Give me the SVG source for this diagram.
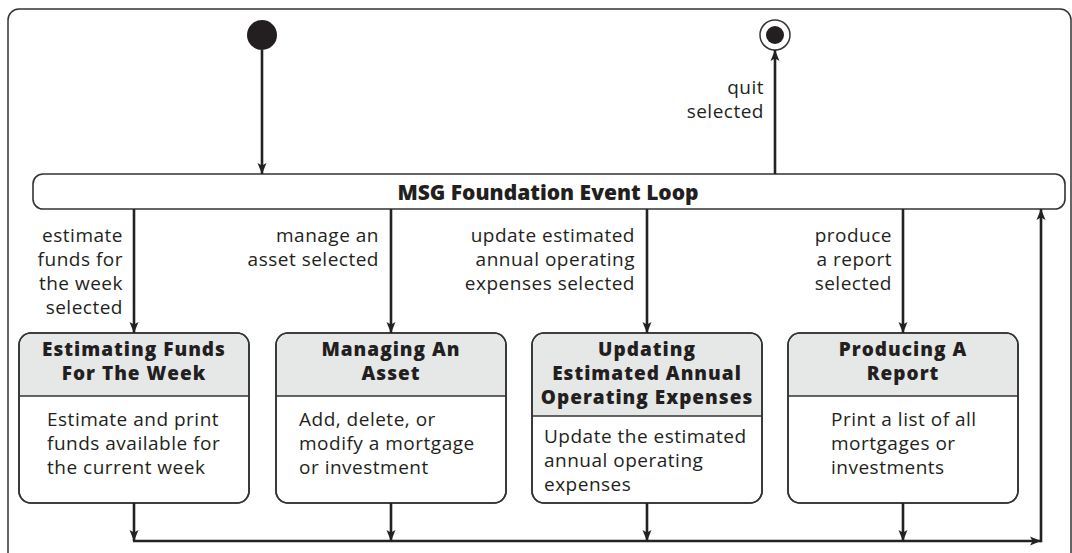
<svg xmlns="http://www.w3.org/2000/svg" width="1072" height="553" viewBox="0 0 1072 553">
<style>
.frame{fill:none;stroke:#333;stroke-width:1.5}
.box{fill:#fff;stroke:#333;stroke-width:1.6}
.hdr{fill:#e6e7e7;stroke:none}
.sep{stroke:#333;stroke-width:1.6}
.c{fill:none;stroke:#222;stroke-width:2.6}
.t{font-family:"Open Sans","Liberation Sans",sans-serif;font-size:19px;letter-spacing:0.5px;fill:#231f20}
.b{font-family:"Open Sans","Liberation Sans",sans-serif;font-size:19px;letter-spacing:1px;font-weight:800;fill:#231f20}
.ti{font-family:"Open Sans","Liberation Sans",sans-serif;font-size:21px;font-weight:800;fill:#231f20}
.e{text-anchor:end}
.m{text-anchor:middle}
</style>
<defs>
<marker id="ah" markerUnits="userSpaceOnUse" markerWidth="12" markerHeight="12" viewBox="0 0 12 12" refX="11" refY="6" orient="auto">
<path d="M0,1.5 L11,6 L0,10.5 L2.5,6 Z" fill="#222"/>
</marker>
</defs>
<rect class="frame" x="8" y="9" width="1063" height="570" rx="11"/>

<g id="initial"><circle cx="262" cy="35" r="15" fill="#231f20"/></g>
<g id="final"><circle cx="775" cy="35" r="15" fill="#fff" stroke="#333" stroke-width="1.5"/><circle cx="775" cy="35" r="9" fill="#231f20"/></g>

<g id="eventloop">
<rect class="box" x="33" y="174" width="1032" height="35" rx="10"/>
<text class="ti m" x="548" y="200">MSG Foundation Event Loop</text>
</g>

<g id="estimating">
<rect class="box" x="19" y="333" width="230" height="170" rx="12"/>
<path class="hdr" d="M20,396 V345 a11,11 0 0 1 11,-11 H237 a11,11 0 0 1 11,11 V396 Z"/>
<line class="sep" x1="19" y1="396" x2="249" y2="396"/>
<rect x="19" y="333" width="230" height="170" rx="12" fill="none" stroke="#333" stroke-width="1.6"/>
<text class="b m" x="134" y="356">Estimating Funds</text>
<text class="b m" x="134" y="380">For The Week</text>
<text class="t" x="47" y="426">Estimate and print</text>
<text class="t" x="47" y="450">funds available for</text>
<text class="t" x="47" y="474">the current week</text>
</g>

<g id="managing">
<rect class="box" x="276" y="333" width="230" height="170" rx="12"/>
<path class="hdr" d="M277,396 V345 a11,11 0 0 1 11,-11 H494 a11,11 0 0 1 11,11 V396 Z"/>
<line class="sep" x1="276" y1="396" x2="506" y2="396"/>
<rect x="276" y="333" width="230" height="170" rx="12" fill="none" stroke="#333" stroke-width="1.6"/>
<text class="b m" x="391" y="356">Managing An</text>
<text class="b m" x="391" y="380">Asset</text>
<text class="t" x="299" y="426">Add, delete, or</text>
<text class="t" x="299" y="450">modify a mortgage</text>
<text class="t" x="299" y="474">or investment</text>
</g>

<g id="updating">
<rect class="box" x="532" y="333" width="230" height="170" rx="12"/>
<path class="hdr" d="M533,416 V345 a11,11 0 0 1 11,-11 H750 a11,11 0 0 1 11,11 V416 Z"/>
<line class="sep" x1="532" y1="416" x2="762" y2="416"/>
<rect x="532" y="333" width="230" height="170" rx="12" fill="none" stroke="#333" stroke-width="1.6"/>
<text class="b m" x="647" y="356">Updating</text>
<text class="b m" x="647" y="380">Estimated Annual</text>
<text class="b m" x="647" y="404">Operating Expenses</text>
<text class="t" x="544" y="443">Update the estimated</text>
<text class="t" x="544" y="467">annual operating</text>
<text class="t" x="544" y="491">expenses</text>
</g>

<g id="producing">
<rect class="box" x="788" y="333" width="230" height="170" rx="12"/>
<path class="hdr" d="M789,396 V345 a11,11 0 0 1 11,-11 H1006 a11,11 0 0 1 11,11 V396 Z"/>
<line class="sep" x1="788" y1="396" x2="1018" y2="396"/>
<rect x="788" y="333" width="230" height="170" rx="12" fill="none" stroke="#333" stroke-width="1.6"/>
<text class="b m" x="903" y="356">Producing A</text>
<text class="b m" x="903" y="380">Report</text>
<text class="t" x="831" y="426">Print a list of all</text>
<text class="t" x="831" y="450">mortgages or</text>
<text class="t" x="831" y="474">investments</text>
</g>

<g id="connectors">
<line class="c" x1="262" y1="50" x2="262" y2="174" marker-end="url(#ah)"/>
<line class="c" x1="775" y1="174" x2="775" y2="50" marker-end="url(#ah)"/>
<line class="c" x1="134" y1="209" x2="134" y2="333" marker-end="url(#ah)"/>
<line class="c" x1="391" y1="209" x2="391" y2="333" marker-end="url(#ah)"/>
<line class="c" x1="647" y1="209" x2="647" y2="333" marker-end="url(#ah)"/>
<line class="c" x1="903" y1="209" x2="903" y2="333" marker-end="url(#ah)"/>
<line class="c" x1="134" y1="503" x2="134" y2="541" marker-end="url(#ah)"/>
<line class="c" x1="391" y1="503" x2="391" y2="541" marker-end="url(#ah)"/>
<line class="c" x1="647" y1="503" x2="647" y2="541" marker-end="url(#ah)"/>
<line class="c" x1="903" y1="503" x2="903" y2="541" marker-end="url(#ah)"/>
<line class="c" x1="133" y1="541" x2="1041" y2="541" marker-end="url(#ah)"/>
<path class="c" d="M1041,542.3 V209" marker-end="url(#ah)"/>
<text class="t e" x="764" y="94">quit</text>
<text class="t e" x="764" y="118">selected</text>
<text class="t e" x="123" y="242">estimate</text>
<text class="t e" x="123" y="266">funds for</text>
<text class="t e" x="123" y="290">the week</text>
<text class="t e" x="123" y="314">selected</text>
<text class="t e" x="379" y="242">manage an</text>
<text class="t e" x="379" y="266">asset selected</text>
<text class="t e" x="635" y="242">update estimated</text>
<text class="t e" x="635" y="266">annual operating</text>
<text class="t e" x="635" y="290">expenses selected</text>
<text class="t e" x="892" y="242">produce</text>
<text class="t e" x="892" y="266">a report</text>
<text class="t e" x="892" y="290">selected</text>
</g>
</svg>
